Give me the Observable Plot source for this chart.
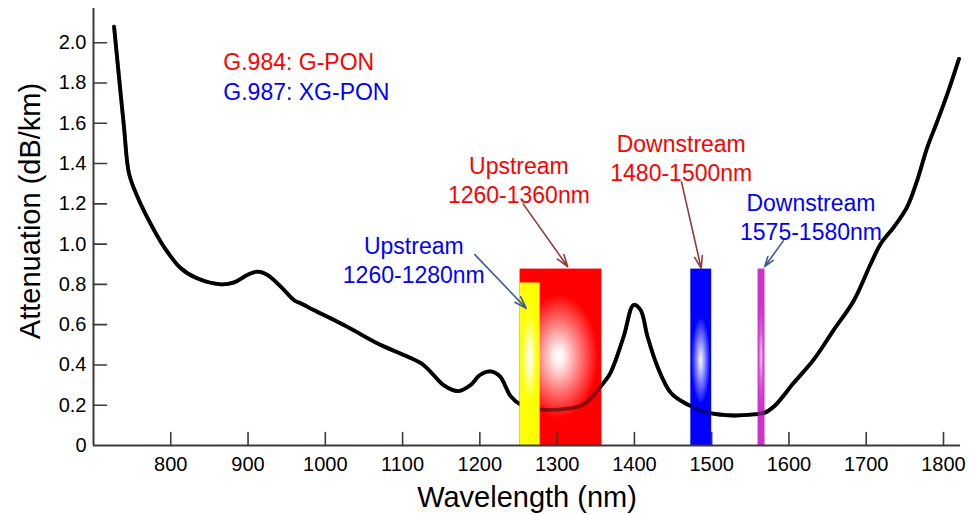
<!DOCTYPE html>
<html>
<head>
<meta charset="utf-8">
<script src="https://cdn.jsdelivr.net/npm/d3@7"></script>
<script src="https://cdn.jsdelivr.net/npm/@observablehq/plot@0.6"></script>
<style>
  html, body { margin: 0; padding: 0; background: #fff; }
  svg { display: block; }
</style>
</head>
<body>
<div id="chart"></div>
<script>
// ---- curve data ----
const wavelength = [726.6, 733, 739.5, 746, 757, 774, 791, 813, 834, 865, 882, 899, 912, 925, 942, 960, 968, 985,
  1028, 1071, 1106, 1127, 1140, 1153, 1172, 1188, 1200, 1214, 1226, 1240, 1253, 1282, 1313, 1334, 1356, 1369,
  1386, 1399, 1408, 1417, 1430, 1447, 1469, 1495, 1528, 1555, 1568, 1581, 1606, 1632, 1658, 1684, 1706, 1719,
  1736, 1753, 1766, 1779, 1792, 1805, 1820];
const attenuation = [2.08, 1.83, 1.58, 1.35, 1.234, 1.10, 0.987, 0.88, 0.83, 0.80, 0.81, 0.847, 0.863, 0.847, 0.79, 0.72, 0.706, 0.673,
  0.59, 0.50, 0.442, 0.40, 0.35, 0.30, 0.27, 0.30, 0.35, 0.368, 0.343, 0.244, 0.203, 0.178, 0.183, 0.203, 0.292, 0.361,
  0.54, 0.698, 0.673, 0.54, 0.39, 0.262, 0.203, 0.163, 0.149, 0.155, 0.162, 0.195, 0.31, 0.426, 0.574, 0.72, 0.904, 1.003,
  1.086, 1.185, 1.317, 1.48, 1.61, 1.746, 1.92];

// ---- axes ----
const xTicks = [800, 900, 1000, 1100, 1200, 1300, 1400, 1500, 1600, 1700, 1800];
const xTickLabels = ["800", "900", "1000", "1100", "1200", "1300", "1400", "1500", "1600", "1700", "1800"];
const yTicks = [0, 0.2, 0.4, 0.6, 0.8, 1.0, 1.2, 1.4, 1.6, 1.8, 2.0];
const yTickLabels = ["0", "0.2", "0.4", "0.6", "0.8", "1.0", "1.2", "1.4", "1.6", "1.8", "2.0"];
const xTitle = "Wavelength (nm)";
const yTitle = "Attenuation (dB/km)";

// ---- wavelength bands (as drawn) ----
const bandNames = ["G.984 upstream", "G.987 upstream", "G.984 downstream", "G.987 downstream"];
const bandStart = [1252, 1252, 1473, 1560];
const bandEnd = [1358, 1278, 1500, 1569];
const bandTop = [0.876, 0.807, 0.876, 0.876];

// ---- legend-like labels ----
const legendLabels = ["G.984: G-PON", "G.987: XG-PON"];
const legendStandard = ["G.984", "G.987"];
const legendX = [868, 868];
const legendY = [1.902, 1.752];

// ---- annotations ----
const noteLabels = ["Upstream\n1260-1360nm", "Downstream\n1480-1500nm", "Upstream\n1260-1280nm", "Downstream\n1575-1580nm"];
const noteStandard = ["G.984", "G.984", "G.987", "G.987"];
const noteX = [1250.5, 1460.6, 1114.5, 1628.5];
const noteY = [1.324, 1.432, 0.927, 1.14];
const arrowX1 = [1256, 1461, 1193.5, 1592.7];
const arrowY1 = [1.20, 1.308, 0.948, 1.016];
const arrowX2 = [1313.7, 1486.4, 1260, 1568.5];
const arrowY2 = [0.888, 0.880, 0.681, 0.888];

// ---- styles ----
const textColor = {"G.984": "#ff0000", "G.987": "#0000ff"};
const arrowColor = {"G.984": "#993838", "G.987": "#3a5a9e"};
const font = "'Liberation Sans', Arial, Helvetica, sans-serif";
const axisColor = "#3a3a3a";

const curve = wavelength.map((w, i) => ({w, a: attenuation[i]}));
const bandIdx = d3.range(bandNames.length);
const tickShape = {draw(context, l) { context.moveTo(0, 0); context.lineTo(0, -l); }};

function bandMark(i, id) {
  return Plot.rect([i], {
    x1: j => bandStart[j], x2: j => bandEnd[j], y1: () => 0, y2: j => bandTop[j],
    fill: `url(#${id})`
  });
}
function notes(std) {
  const idx = d3.range(noteLabels.length).filter(i => noteStandard[i] === std);
  return [
    Plot.text(idx, {x: i => noteX[i], y: i => noteY[i], text: i => noteLabels[i], fill: textColor[std],
      fontSize: 23, lineHeight: 1.27, textAnchor: "middle", lineAnchor: "middle"}),
    Plot.arrow(idx, {x1: i => arrowX1[i], y1: i => arrowY1[i], x2: i => arrowX2[i], y2: i => arrowY2[i],
      stroke: arrowColor[std], strokeWidth: 1.6, headLength: 12, headAngle: 36})
  ];
}
function legend(std) {
  const idx = d3.range(legendLabels.length).filter(i => legendStandard[i] === std);
  return Plot.text(idx, {x: i => legendX[i], y: i => legendY[i], text: i => legendLabels[i], fill: textColor[std],
    fontSize: 23, textAnchor: "start", lineAnchor: "middle"});
}

const svg = Plot.plot({
  width: 969,
  height: 515,
  marginLeft: 93,
  marginRight: 9,
  marginTop: 8,
  marginBottom: 70,
  style: {fontFamily: font, fontSize: "20px", color: "#000", background: "#fff"},
  x: {domain: [700, 1822], axis: null},
  y: {domain: [0, 2.17], axis: null},
  marks: [
    Plot.line(curve, {x: "w", y: "a", stroke: "#000", strokeWidth: 3.8, curve: "catmull-rom"}),
    bandMark(0, "gRed"),
    bandMark(2, "gBlue"),
    bandMark(3, "gMag"),
    Plot.line(curve, {x: "w", y: "a", stroke: "#000", strokeOpacity: 0.45, strokeWidth: 3.8, curve: "catmull-rom"}),
    bandMark(1, "gYel"),
    // axes
    Plot.ruleX([700], {stroke: axisColor, strokeWidth: 2}),
    Plot.ruleY([0], {stroke: axisColor, strokeWidth: 2}),
    Plot.vector(xTicks, {x: d => d, y: () => 0, length: 13, rotate: 0, anchor: "start", shape: tickShape, stroke: axisColor, strokeWidth: 1.6}),
    Plot.vector(yTicks.slice(1), {x: () => 700, y: d => d, length: 13, rotate: 90, anchor: "start", shape: tickShape, stroke: axisColor, strokeWidth: 1.6}),
    Plot.axisX({ticks: xTicks, tickSize: 0, tickPadding: 11, tickFormat: d => xTickLabels[xTicks.indexOf(d)], fontSize: 20, label: null}),
    Plot.axisY({ticks: yTicks, tickSize: 0, tickPadding: 7, tickFormat: d => yTickLabels[yTicks.indexOf(d)], fontSize: 20, label: null}),
    Plot.text([xTitle], {frameAnchor: "bottom", dy: 52, fontSize: 29, textAnchor: "middle", lineAnchor: "middle", fill: "#000"}),
    Plot.text([yTitle], {frameAnchor: "left", rotate: -90, dx: -63, dy: -16, fontSize: 29, textAnchor: "middle", lineAnchor: "middle", fill: "#000"}),
    // labels
    legend("G.984"),
    legend("G.987"),
    ...notes("G.984"),
    ...notes("G.987")
  ]
});

// radial gradients for the bands
const defs = d3.create("svg:defs");
function radial(id, cx, cy, r, sy, stops) {
  const g = defs.append("radialGradient").attr("id", id)
    .attr("cx", cx).attr("cy", cy).attr("r", r).attr("fx", cx).attr("fy", cy)
    .attr("gradientTransform", `translate(${cx},${cy}) scale(1,${sy}) translate(${-cx},${-cy})`);
  for (const [o, c] of stops) g.append("stop").attr("offset", o).attr("stop-color", c);
}
radial("gRed", 0.48, 0.5, 0.5, 0.74, [[0, "#ffffff"], [0.12, "#fff0f0"], [0.55, "#ff7070"], [0.95, "#ff0000"], [1, "#ff0000"]]);
radial("gYel", 0.5, 0.46, 0.5, 0.75, [[0, "#ffffff"], [0.25, "#ffffc0"], [0.7, "#ffff10"], [1, "#ffff00"]]);
radial("gBlue", 0.5, 0.52, 0.5, 0.55, [[0, "#ffffff"], [0.35, "#9a9aff"], [0.9, "#0000ff"], [1, "#0000ff"]]);
radial("gMag", 0.5, 0.5, 0.5, 0.6, [[0, "#f4c0f4"], [0.6, "#d650d6"], [1, "#cc33cc"]]);
svg.insertBefore(defs.node(), svg.firstChild);

document.getElementById("chart").appendChild(svg);
</script>
</body>
</html>
